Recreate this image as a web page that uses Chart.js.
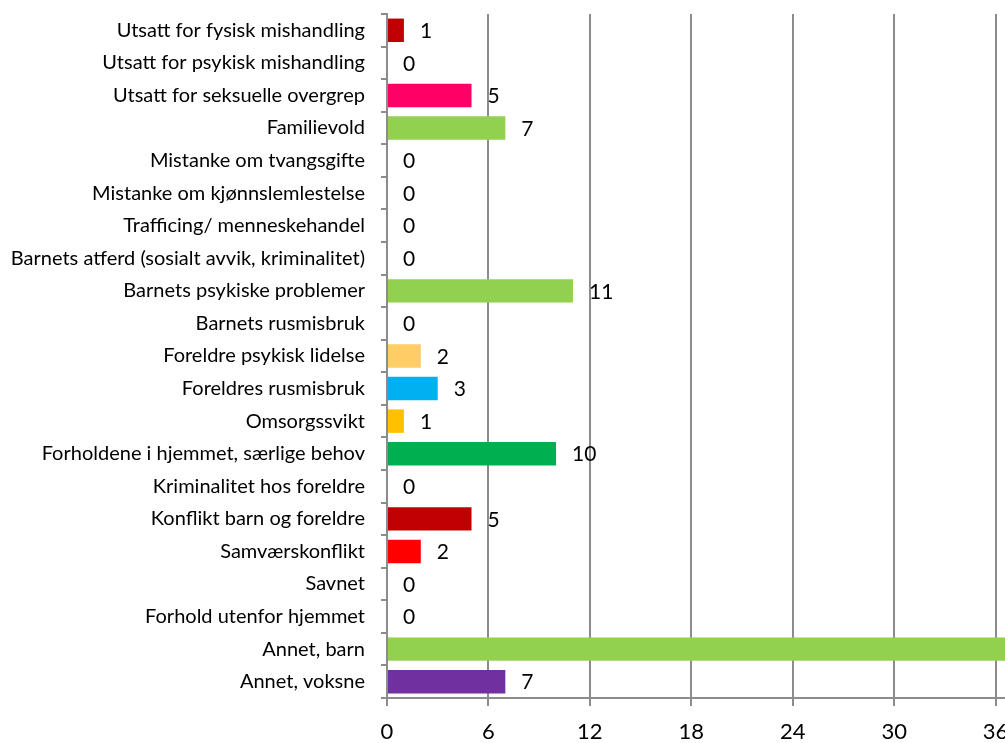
<!DOCTYPE html>
<html>
<head>
<meta charset="utf-8">
<script src="https://cdn.jsdelivr.net/npm/chart.js@4"></script>
<style>
    html, body { margin: 0; padding: 0; background: #fff; overflow: hidden; }
    #wrap { width: 1097px; height: 743px; }
</style>
</head>
<body>
<div id="wrap"><canvas id="chart"></canvas></div>
<script>
const categories = [
    "Utsatt for fysisk mishandling",
    "Utsatt for psykisk mishandling",
    "Utsatt for seksuelle overgrep",
    "Familievold",
    "Mistanke om tvangsgifte",
    "Mistanke om kjønnslemlestelse",
    "Trafficing/ menneskehandel",
    "Barnets atferd (sosialt avvik, kriminalitet)",
    "Barnets psykiske problemer",
    "Barnets rusmisbruk",
    "Foreldre psykisk lidelse",
    "Foreldres rusmisbruk",
    "Omsorgssvikt",
    "Forholdene i hjemmet, særlige behov",
    "Kriminalitet hos foreldre",
    "Konflikt barn og foreldre",
    "Samværskonflikt",
    "Savnet",
    "Forhold utenfor hjemmet",
    "Annet, barn",
    "Annet, voksne"
];
const values = [1, 0, 5, 7, 0, 0, 0, 0, 11, 0, 2, 3, 1, 10, 0, 5, 2, 0, 0, 38, 7];
const barColors = [
    "#C00000", "#C00000", "#FF0066", "#92D050", "#92D050", "#92D050", "#92D050",
    "#92D050", "#92D050", "#92D050", "#FFCC66", "#00B0F0", "#FFC000", "#00B050",
    "#C00000", "#C00000", "#FF0000", "#92D050", "#92D050", "#92D050", "#7030A0"
];
const xTicks = [0, 6, 12, 18, 24, 30, 36, 42];

const font = "Lato, 'Open Sans', sans-serif";

// Value labels right of each bar
const valueLabels = {
    id: "valueLabels",
    afterDatasetsDraw(chart) {
        const ctx = chart.ctx;
        const meta = chart.getDatasetMeta(0);
        ctx.save();
        ctx.font = "21px " + font;
        ctx.fillStyle = "#000";
        ctx.textAlign = "left";
        ctx.textBaseline = "middle";
        meta.data.forEach((bar, i) => {
            ctx.fillText(String(values[i]), bar.x + 16, bar.y + 1);
        });
        ctx.restore();
    }
};

new Chart(document.getElementById("chart"), {
    type: "bar",
    data: {
        labels: categories,
        datasets: [{
            data: values,
            backgroundColor: barColors,
            barPercentage: 0.8,
            categoryPercentage: 0.9
        }]
    },
    options: {
        indexAxis: "y",
        responsive: true,
        maintainAspectRatio: false,
        animation: false,
        layout: { padding: { top: 14, right: 0, left: 0, bottom: 0 } },
        plugins: {
            legend: { display: false },
            tooltip: { enabled: false }
        },
        scales: {
            x: {
                min: 0,
                max: 42,
                afterBuildTicks: scale => {
                    scale.ticks = xTicks.map(v => ({ value: v }));
                },
                afterFit: scale => {
                    scale.height = 45;
                    scale.paddingLeft = 0;
                    scale.paddingRight = 0;
                },
                grid: {
                    color: "#8c8c8c",
                    lineWidth: 2,
                    tickLength: 8
                },
                border: { color: "#8c8c8c", width: 2 },
                ticks: {
                    color: "#000",
                    padding: 13,
                    font: { family: font, size: 22 }
                }
            },
            y: {
                afterFit: scale => {
                    scale.width = 387;
                    scale.paddingTop = 0;
                    scale.paddingBottom = 0;
                },
                grid: {
                    drawOnChartArea: false,
                    color: "#8c8c8c",
                    lineWidth: 2,
                    tickLength: 6
                },
                border: { color: "#8c8c8c", width: 2 },
                ticks: {
                    color: "#000",
                    padding: 16,
                    autoSkip: false,
                    font: { family: font, size: 20 }
                }
            }
        }
    },
    plugins: [valueLabels]
});
</script>
</body>
</html>
